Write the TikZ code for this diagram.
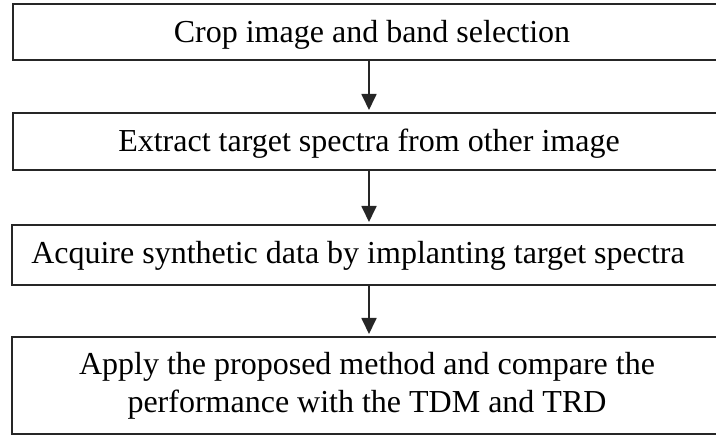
\documentclass[tikz,border=0pt]{standalone}
\usepackage{fontspec}
\setmainfont{Liberation Serif}
\usetikzlibrary{arrows.meta}

\tikzset{
  stepbox/.style={draw=black!85, line width=2pt, fill=white, rectangle,
    inner sep=0pt, outer sep=0pt, minimum width=708pt},
  steptext/.style={anchor=base, inner sep=0pt, font=\fontsize{32}{38}\selectfont, align=center},
  flow/.style={draw=black!85, line width=1.8pt, -{Triangle[length=16pt, width=15pt]}, shorten >=3pt}
}

\begin{document}
\begin{tikzpicture}[x=1pt, y=-1pt]
  \useasboundingbox (0,0) rectangle (716,435);
  \clip (0,0) rectangle (716,435);

  % process boxes (right edges run past the page)
  \node[stepbox, minimum height=56pt] (b1) at (367,32) {};
  \node[stepbox, minimum height=57pt] (b2) at (367,141.5) {};
  \node[stepbox, minimum height=60pt] (b3) at (366,255) {};
  \node[stepbox, minimum height=97pt] (b4) at (366,385.5) {};

  % box labels
  \node[steptext] (t1) at (372,43) {Crop image and band selection};
  \node[steptext] (t2) at (369,152) {Extract target spectra from other image};
  \node[steptext] (t3) at (358,264) {Acquire synthetic data by implanting target spectra};
  \node[steptext] (t4) at (367,413) {Apply the proposed method and compare the\\performance with the TDM and TRD};

  % arrows between steps
  \draw[flow] ([xshift=2pt]b1.south) -- ([xshift=2pt]b2.north);
  \draw[flow] ([xshift=2pt]b2.south) -- ([xshift=3pt]b3.north);
  \draw[flow] ([xshift=3pt]b3.south) -- ([xshift=3pt]b4.north);
\end{tikzpicture}
\end{document}
